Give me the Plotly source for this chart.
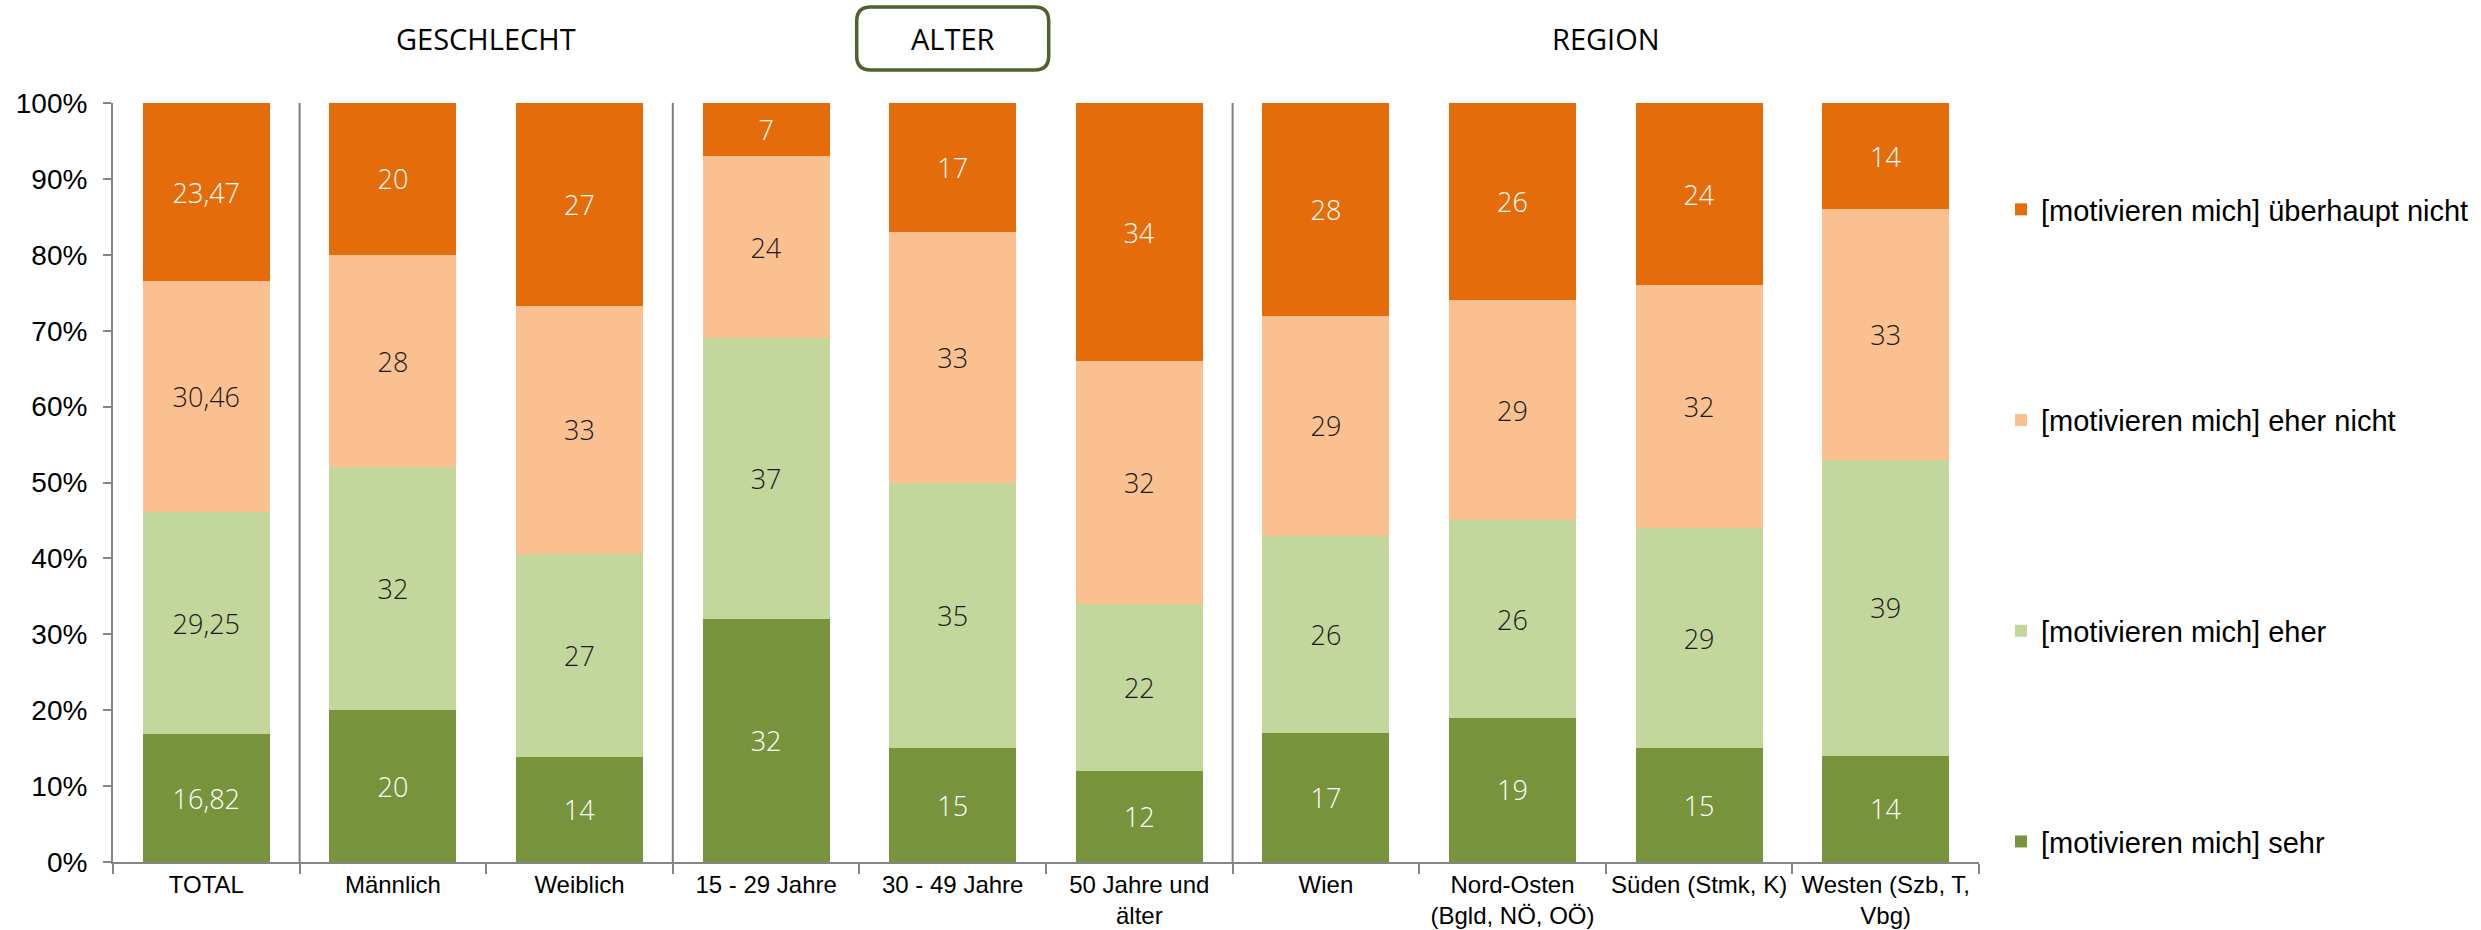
import plotly.graph_objects as go

categories = ["TOTAL", "Männlich", "Weiblich", "15 - 29 Jahre", "30 - 49 Jahre",
              "50 Jahre und<br>älter", "Wien", "Nord-Osten<br>(Bgld, NÖ, OÖ)",
              "Süden (Stmk, K)", "Westen (Szb, T,<br>Vbg)"]

sehr = [16.82, 20, 14, 32, 15, 12, 17, 19, 15, 14]
eher = [29.25, 32, 27, 37, 35, 22, 26, 26, 29, 39]
eher_nicht = [30.46, 28, 33, 24, 33, 32, 29, 29, 32, 33]
ueberhaupt_nicht = [23.47, 20, 27, 7, 17, 34, 28, 26, 24, 14]

series_names = ["[motivieren mich] sehr", "[motivieren mich] eher",
                "[motivieren mich] eher nicht", "[motivieren mich] überhaupt nicht"]
series_values = [sehr, eher, eher_nicht, ueberhaupt_nicht]
series_colors = ["#77933C", "#C3D69B", "#FAC090", "#E46C0A"]
label_colors = ["#FFFFFF", "#1A1A1A", "#1A1A1A", "#FFFFFF"]

group_titles = ["GESCHLECHT", "ALTER", "REGION"]
group_centers = [1.5, 4, 7.5]
separators = [0.5, 2.5, 5.5]
y_ticks = [0, 10, 20, 30, 40, 50, 60, 70, 80, 90, 100]


def fmt(v):
    return f"{v:g}".replace(".", ",")


fig = go.Figure()
n_series = len(series_names)
for i, (name, vals, col, lcol) in enumerate(zip(series_names, series_values, series_colors, label_colors)):
    fig.add_trace(go.Bar(
        x=categories, y=vals, name=name,
        marker=dict(color=col, line=dict(width=0)),
        text=[fmt(v) for v in vals], texttemplate="%{text}",
        textposition="inside", insidetextanchor="middle", textangle=0,
        textfont=dict(family="Open Sans", size=27, color=lcol, weight=300),
        legendgroup=f"g{i}", legendrank=n_series - i, hoverinfo="skip",
    ))

W, H = 2481, 930
ml, mr, mt, mb = 113, 502, 103, 68

shapes = []
for s in separators:
    shapes.append(dict(type="line", xref="x", yref="y", x0=s, x1=s, y0=0, y1=100,
                       line=dict(color="#7F7F7F", width=2)))

# rounded box around ALTER
pw = W - ml - mr
ph = H - mt - mb
cx = (group_centers[1] + 0.5) / len(categories)
hw = 96 / pw
x0, x1 = cx - hw, cx + hw
y1 = 1 + (mt - 7) / ph
y0 = 1 + (mt - 70) / ph
rx, ry = 14 / pw, 14 / ph
path = (f"M {x0+rx},{y1} L {x1-rx},{y1} Q {x1},{y1} {x1},{y1-ry} "
        f"L {x1},{y0+ry} Q {x1},{y0} {x1-rx},{y0} L {x0+rx},{y0} "
        f"Q {x0},{y0} {x0},{y0+ry} L {x0},{y1-ry} Q {x0},{y1} {x0+rx},{y1} Z")
shapes.append(dict(type="path", xref="paper", yref="paper", path=path,
                   line=dict(color="#4F6228", width=3.5), fillcolor="rgba(0,0,0,0)"))

annotations = []
for t, c in zip(group_titles, group_centers):
    annotations.append(dict(text=t, x=c, xref="x", y=1 + (mt - 39) / ph, yref="paper",
                            showarrow=False, xanchor="center", yanchor="middle",
                            font=dict(family="Open Sans", size=29, color="#000000")))

fig.update_layout(
    width=W, height=H, autosize=False,
    margin=dict(l=ml, r=mr, t=mt, b=mb, pad=0, autoexpand=False),
    barmode="stack", barnorm="percent", bargap=0.32,
    plot_bgcolor="white", paper_bgcolor="white",
    font=dict(family="Liberation Sans, Arial", size=24, color="#000000"),
    shapes=shapes, annotations=annotations,
    showlegend=True,
    legend=dict(x=(2001 - ml) / pw, xanchor="left", y=(862 - 184) / ph, yanchor="top",
                traceorder="grouped", tracegroupgap=170,
                font=dict(family="Liberation Sans, Arial", size=29, color="#000000"),
                bgcolor="rgba(0,0,0,0)"),
)
fig.update_xaxes(type="category", showline=True, linecolor="#868686", linewidth=2,
                 ticks="outside", tickson="boundaries", ticklen=10, tickcolor="#868686",
                 tickwidth=2, showgrid=False, tickfont=dict(size=24), automargin=False)
fig.update_yaxes(range=[0, 100], tickvals=y_ticks, ticktext=[f"{v}%" for v in y_ticks],
                 showline=True, linecolor="#868686", linewidth=2, ticks="outside",
                 ticklen=8, tickcolor="#868686", tickwidth=2, showgrid=False,
                 zeroline=False, tickfont=dict(size=28), automargin=False,
                 ticklabelstandoff=10)

fig.write_html("out.html", config={"displayModeBar": False},
               post_script="document.body.style.margin='0';document.body.style.overflow='hidden';")
